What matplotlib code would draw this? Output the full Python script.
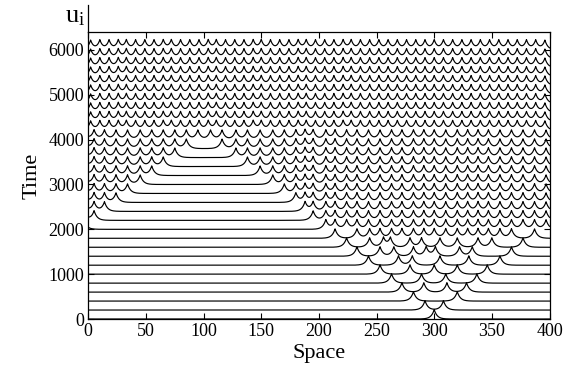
import numpy as np
import matplotlib
matplotlib.use("Agg")
import matplotlib.pyplot as plt

plt.rcParams['font.family'] = 'Liberation Serif'
plt.rcParams['mathtext.fontset'] = 'custom'
plt.rcParams['mathtext.rm'] = 'Liberation Serif'
plt.rcParams['mathtext.it'] = 'Liberation Serif:italic'

# one trace every 200 time units
times = [0, 200, 400, 600, 800, 1000, 1200, 1400, 1600, 1800,
         2000, 2200, 2400, 2600, 2800, 3000, 3200, 3400, 3600, 3800,
         4000, 4200, 4400, 4600, 4800, 5000, 5200, 5400, 5600, 5800, 6000]

# pulse positions (waves leaving the site near 300)
early_pulses = [
    [300],
    [292, 308],
    [282, 320],
    [272, 291, 311, 328],
    [263, 289, 310, 337],
    [253, 279, 300, 320, 346],
    [243, 269, 281, 305, 330, 357],
    [233, 253, 265, 282, 293, 301, 322, 333, 367],
    [224, 244, 256, 262, 279, 289, 305, 320, 338, 350, 377],
    [214, 233, 244, 253, 263, 272, 282, 291, 300, 310, 320, 329, 338, 347, 357, 367, 387],
]

# pulse columns of the wave coming in from the left edge (rows 2000-4000)
left_cols = [-4, 5, 14, 24, 34, 45, 55, 65, 75, 85, 95]
# pulse columns of the wave train from the centre (rows 2000-4000)
right_cols = [106, 116, 128, 138, 149, 160, 170, 180, 188, 195, 206, 214, 224,
              233, 243, 253, 263, 272, 282, 291, 300, 310, 320, 329, 338, 347,
              357, 367, 377, 387, 397]
# outermost pulse of each front, rows 2000..3800
front_left = [-4, 5, 14, 24, 34, 45, 55, 65, 75, 85]
front_right = [206, 195, 188, 180, 170, 160, 149, 138, 128, 116]

# dense train filling the whole lattice (rows 4200-6000)
top_cols = [2, 10, 18, 26, 33, 41, 49, 57, 65, 72, 80, 88, 96, 104, 111, 119,
            127, 135, 143, 150, 158, 166, 174, 182, 189, 197, 205, 213, 221,
            228, 236, 244, 252, 260, 268, 276, 284, 292, 300, 308, 316, 324,
            332, 340, 348, 356, 364, 372, 380, 388, 396]

amp = 210.0     # pulse height in time units
width = 2.6     # decay length of a pulse

fig = plt.figure(figsize=(5.65, 3.75), dpi=100)
ax = fig.add_axes([0.1563, 0.1493, 0.8163, 0.7654])

x = np.linspace(0, 400, 2001)
for k, t in enumerate(times):
    if k < len(early_pulses):
        p = early_pulses[k]
    elif k < 20:
        j = k - 10
        p = [c for c in left_cols if c <= front_left[j]] + \
            [c for c in right_cols if c >= front_right[j]]
    elif k == 20:
        p = left_cols + right_cols
    else:
        p = top_cols
    u = np.zeros_like(x)
    for c in p:
        u += np.exp(-np.abs(x - c) / width)
    ax.plot(x, t + amp * u, color='black', lw=0.85)

ax.set_xlim(0, 400)
ax.set_ylim(0, 6400)
ax.set_xticks(range(0, 401, 50))
ax.set_yticks(range(0, 6001, 1000))
ax.tick_params(direction='in', length=4, width=0.8, top=True, right=True,
               labelsize=13, pad=3)
for s in ax.spines.values():
    s.set_linewidth(0.9)

ax.set_xlabel("Space", fontsize=16, labelpad=3)
ax.set_ylabel("Time", fontsize=16, labelpad=5)

# u_i axis sticking out above the frame
ax.plot([0, 0], [6400, 7000], color='black', lw=0.9, clip_on=False)
ax.text(-3, 6730, r'$\mathregular{u_i}$', fontsize=19, ha='right', va='center')

fig.savefig("out.png", dpi=100)
